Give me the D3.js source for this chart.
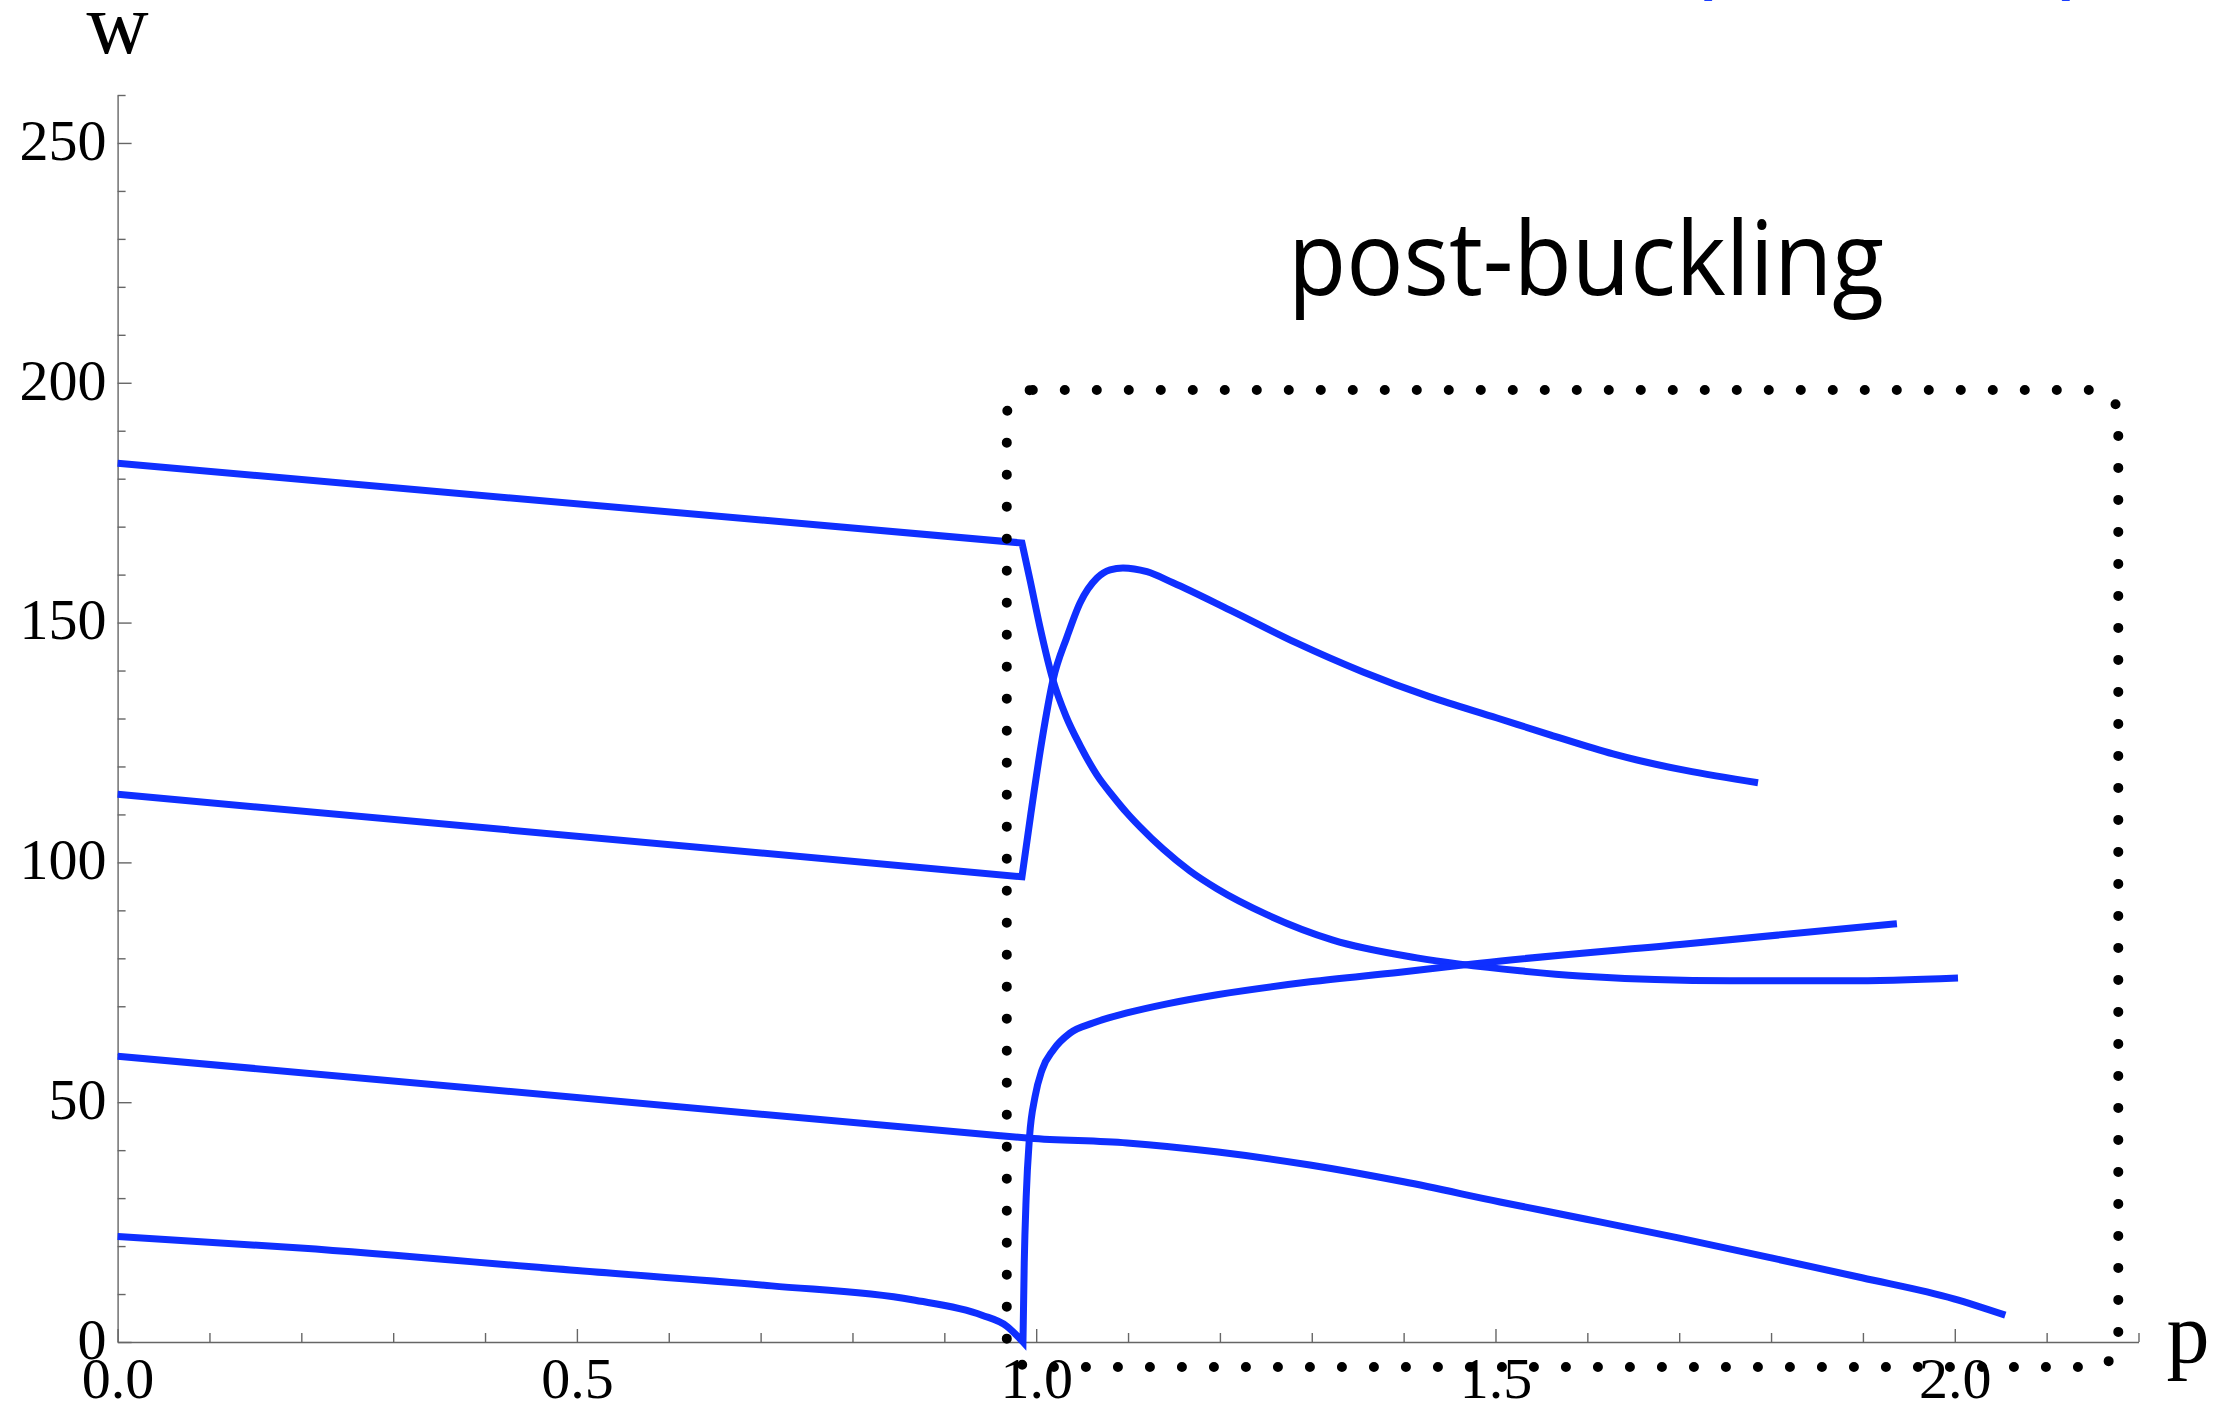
<!DOCTYPE html>
<html>
<head>
<meta charset="utf-8">
<script src="https://cdn.jsdelivr.net/npm/d3@7"></script>
<style>
  body { margin: 0; background: #fff; }
  .axis text { font-family: "Liberation Serif", "Times New Roman", serif; font-size: 58px; fill: #000; }
  .axis path, .axis line { stroke: #666; stroke-width: 1.4; }
  .chart-line { fill: none; stroke: #0f2fff; stroke-width: 7; stroke-linejoin: miter; }
</style>
</head>
<body>
<svg class="chart"></svg>
<script>
// Curves, [p, w] pairs.
// Each branch is split at its corner near p = 1 (before / after).
const topBefore = [[0, 183.2], [0.9845, 166.6]];
const topAfter = [
    [0.9845, 166.6], [0.9933, 158.9], [1.0041, 149.1], [1.0183, 138.0], [1.0324, 130.5],
    [1.0477, 124.4], [1.0662, 118.2], [1.0836, 113.8], [1.0988, 110.3], [1.113, 107.4],
    [1.138, 102.8], [1.1674, 98.2], [1.1968, 94.5], [1.2512, 89.1], [1.3231, 83.8],
    [1.4145, 80.1], [1.5267, 77.4], [1.592, 76.3], [1.7553, 75.3], [1.8827, 75.3], [2.0035, 75.9]
];

const secondBefore = [[0, 114.2], [0.9845, 97.0]];
const secondAfter = [
    [0.9845, 97.0], [0.9943, 110.3], [1.0063, 125.5], [1.0183, 138.0], [1.0335, 147.0],
    [1.0477, 154.1], [1.0662, 159.3], [1.0804, 161.0], [1.0945, 161.4], [1.1206, 160.6],
    [1.1489, 158.3], [1.211, 152.6], [1.2839, 145.7], [1.3558, 139.7], [1.4287, 134.5],
    [1.5017, 130.1], [1.5594, 126.6], [1.628, 122.6], [1.7858, 116.6]
];

const thirdBefore = [[0, 59.6], [0.961, 43.0]];
const thirdAfter = [
    [0.961, 43.0], [0.993, 42.5], [1.099, 41.5], [1.198, 39.6], [1.298, 36.9],
    [1.40, 33.4], [1.505, 29.2], [1.599, 25.6], [1.699, 21.7], [1.799, 17.6],
    [1.899, 13.4], [1.999, 9.0], [2.055, 5.6]
];

const bottomBefore = [
    [0, 22.0], [0.199, 19.6], [0.5, 14.9], [0.712, 11.7], [0.865, 8.8],
    [0.941, 5.6], [0.968, 3.3], [0.9856, 0]
];
const bottomAfter = [
    [0.9856, 0], [0.987, 16.5], [0.9891, 30.2], [0.9927, 42.7], [0.9987, 51.1],
    [1.0063, 56.7], [1.0186, 60.9], [1.0368, 64.4], [1.0618, 66.5], [1.0988, 68.6],
    [1.1424, 70.5], [1.1968, 72.4], [1.2981, 75.1], [1.3961, 77.1], [1.4831, 79.0],
    [1.7008, 82.9], [1.937, 87.2]
];

// ticks
const xMajor = [0, 0.5, 1.0, 1.5, 2.0];
const xMinor = [0.1, 0.2, 0.3, 0.4, 0.6, 0.7, 0.8, 0.9, 1.1, 1.2, 1.3, 1.4, 1.6, 1.7, 1.8, 1.9, 2.1, 2.2];
const yMajor = [0, 50, 100, 150, 200, 250];
const yMinor = [10, 20, 30, 40, 60, 70, 80, 90, 110, 120, 130, 140, 160, 170, 180, 190, 210, 220, 230, 240, 260];

// the dotted "post-buckling" region, in p and w
const boxP = [0.968, 2.178];
const boxW = [-5.2, 198.5];

const svgWidth = 2226;
const svgHeight = 1407;

const svg = d3.select('.chart')
    .attr('width', svgWidth)
    .attr('height', svgHeight);

const xScale = d3.scaleLinear()
    .domain([0, 2.2])
    .range([117.6, 2138.5]);

const yScale = d3.scaleLinear()
    .domain([0, 260])
    .range([1342, 95]);

// y axis, ticks pointing inward
svg.append('g')
    .attr('class', 'axis')
    .attr('transform', `translate(${xScale(0)}, 0)`)
    .call(d3.axisLeft(yScale).tickValues(yMinor).tickSize(-8).tickFormat(''))
    .call(g => g.select('.domain').remove());

svg.append('g')
    .attr('class', 'axis')
    .attr('transform', `translate(${xScale(0)}, 0)`)
    .call(d3.axisLeft(yScale).tickValues(yMajor).tickSizeInner(-14).tickSizeOuter(0).tickPadding(11))
    .call(g => g.selectAll('text').attr('dy', '0.28em'));

// x axis
svg.append('g')
    .attr('class', 'axis')
    .attr('transform', `translate(0, ${yScale(0)})`)
    .call(d3.axisBottom(xScale).tickValues(xMinor).tickSize(-9).tickFormat(''))
    .call(g => g.select('.domain').remove());

svg.append('g')
    .attr('class', 'axis')
    .attr('transform', `translate(0, ${yScale(0)})`)
    .call(d3.axisBottom(xScale).tickValues(xMajor).tickSizeInner(-13).tickSizeOuter(0)
        .tickPadding(15).tickFormat(d3.format('.1f')));

// axis names
svg.append('text')
    .attr('x', xScale(0))
    .attr('y', 53)
    .attr('text-anchor', 'middle')
    .style('font-family', '"Liberation Serif", serif')
    .style('font-size', '86px')
    .text('w');

svg.append('text')
    .attr('x', 2188)
    .attr('y', 1362)
    .attr('text-anchor', 'middle')
    .style('font-family', '"Liberation Serif", serif')
    .style('font-size', '86px')
    .text('p');

// curves: straight run up to the corner, smooth after it
const straight = d3.line()
    .x(d => xScale(d[0]))
    .y(d => yScale(d[1]));

const smooth = d3.line()
    .x(d => xScale(d[0]))
    .y(d => yScale(d[1]))
    .curve(d3.curveMonotoneX);

function branch(before, after, beforeCurved) {
    const first = beforeCurved ? smooth(before) : straight(before);
    return first + smooth(after).replace(/^M/, 'L');
}

svg.append('path').attr('class', 'chart-line').attr('d', branch(topBefore, topAfter, false));
svg.append('path').attr('class', 'chart-line').attr('d', branch(secondBefore, secondAfter, false));
svg.append('path').attr('class', 'chart-line').attr('d', branch(thirdBefore, thirdAfter, false));
svg.append('path').attr('class', 'chart-line').attr('d', branch(bottomBefore, bottomAfter, true));

// dotted box
svg.append('rect')
    .attr('x', xScale(boxP[0]))
    .attr('y', yScale(boxW[1]))
    .attr('width', xScale(boxP[1]) - xScale(boxP[0]))
    .attr('height', yScale(boxW[0]) - yScale(boxW[1]))
    .attr('rx', 26)
    .attr('fill', 'none')
    .attr('stroke', '#000')
    .attr('stroke-width', 10)
    .attr('stroke-linecap', 'round')
    .attr('stroke-dasharray', '0 32');

svg.append('text')
    .attr('x', 1288)
    .attr('y', 295)
    .attr('textLength', 596)
    .attr('lengthAdjust', 'spacingAndGlyphs')
    .style('font-family', '"Open Sans", sans-serif')
    .style('font-size', '102px')
    .text('post-buckling');

// bits of a blue caption cut off at the top edge
svg.append('text')
    .attr('x', 1686)
    .attr('y', -15)
    .attr('fill', '#1a3cff')
    .style('font-family', '"Open Sans", sans-serif')
    .style('font-size', '100px')
    .text('(');

svg.append('text')
    .attr('x', 2088)
    .attr('y', -15)
    .attr('text-anchor', 'end')
    .attr('fill', '#1a3cff')
    .style('font-family', '"Open Sans", sans-serif')
    .style('font-size', '100px')
    .text(')');
</script>
</body>
</html>
